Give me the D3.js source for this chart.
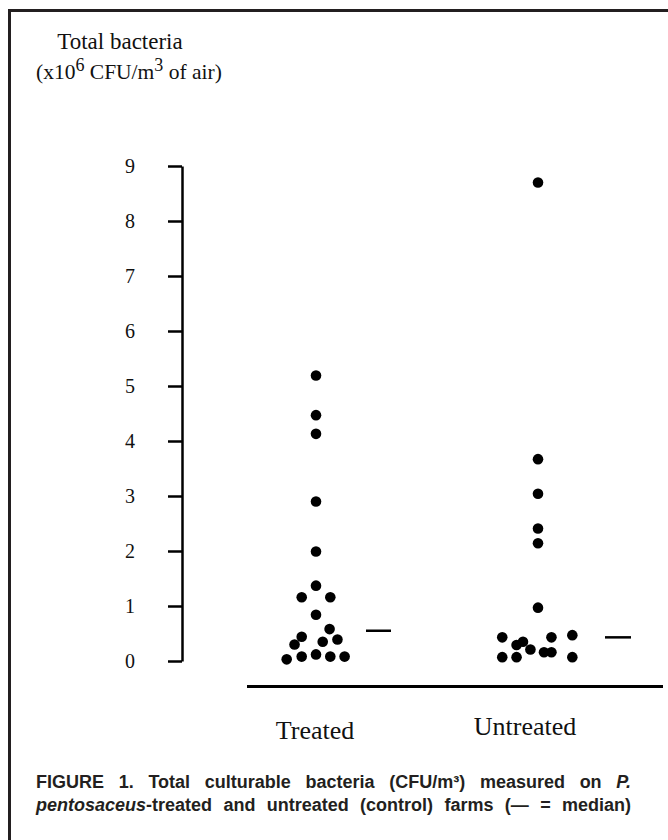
<!DOCTYPE html>
<html>
<head>
<meta charset="utf-8">
<script src="https://cdn.jsdelivr.net/npm/d3@7"></script>
<style>
  body { margin: 0; background: #fff; }
  svg { display: block; }
</style>
</head>
<body>
<svg id="chart"></svg>
<script>
const groups = ['Treated', 'Untreated'];
const yTicks = [0, 1, 2, 3, 4, 5, 6, 7, 8, 9];

// value (x10^6 CFU/m3), horizontal slot offset in dot widths
const treatedValues = [5.19, 4.47, 4.13, 2.90, 1.99, 1.37, 1.16, 1.16, 0.84, 0.58, 0.44, 0.30, 0.35, 0.39, 0.03, 0.08, 0.12, 0.08, 0.08];
const treatedSlots  = [0, 0, 0, 0, 0, 0, -1, 1, 0, 0.95, -1, -1.5, 0.47, 1.5, -2.05, -1, 0, 1, 2];
const untreatedValues = [8.70, 3.67, 3.04, 2.41, 2.14, 0.97, 0.43, 0.43, 0.47, 0.35, 0.29, 0.21, 0.16, 0.16, 0.07, 0.07, 0.07];
const untreatedSlots  = [0, 0, 0, 0, 0, 0, -2.5, 0.94, 2.4, -1.05, -1.5, -0.53, 0.42, 0.94, -2.5, -1.5, 2.4];
const medians = [0.55, 0.43];

const width = 668;
const height = 840;

const svg = d3.select('#chart')
  .attr('width', width)
  .attr('height', height);

// frame (top and left edges only)
svg.append('path')
  .attr('d', `M9.5,${height} L9.5,10.5 L${width},10.5`)
  .attr('fill', 'none')
  .attr('stroke', '#231f20')
  .attr('stroke-width', 3);

const serif = '"Liberation Serif", "DejaVu Serif", serif';

// y axis title
const title = svg.append('g').attr('font-family', serif).attr('fill', '#111');
title.append('text')
  .attr('x', 120).attr('y', 49)
  .attr('text-anchor', 'middle')
  .attr('font-size', 23)
  .text('Total bacteria');
const t2 = title.append('text')
  .attr('x', 36).attr('y', 79)
  .attr('font-size', 21.5);
t2.append('tspan').text('(x10');
t2.append('tspan').attr('dy', -8).attr('font-size', 18).text('6');
t2.append('tspan').attr('dy', 8).text(' CFU/m');
t2.append('tspan').attr('dy', -8).attr('font-size', 18).text('3');
t2.append('tspan').attr('dy', 8).text(' of air)');

const y = d3.scaleLinear()
  .domain([0, 9])
  .range([661, 166]);

const x = d3.scalePoint()
  .domain(groups)
  .range([316, 538]);

const slot = d3.scaleLinear()
  .domain([-1, 1])
  .range([-14.3, 14.3]);

const yAxis = d3.axisLeft(y)
  .tickValues(yTicks)
  .tickSize(14)
  .tickSizeOuter(0)
  .tickPadding(33)
  .tickFormat(d3.format('d'));

const yG = svg.append('g')
  .attr('transform', 'translate(182,0)')
  .call(yAxis);
yG.select('.domain').attr('stroke', '#000').attr('stroke-width', 2.5);
yG.selectAll('.tick line').attr('stroke', '#000').attr('stroke-width', 2.5);
yG.selectAll('.tick text')
  .attr('font-family', serif)
  .attr('font-size', 20)
  .attr('fill', '#111');

// baseline under the groups
svg.append('line')
  .attr('x1', 247).attr('x2', 663)
  .attr('y1', 686.5).attr('y2', 686.5)
  .attr('stroke', '#000')
  .attr('stroke-width', 3);

// group labels
svg.selectAll('.group-label')
  .data(groups)
  .enter()
  .append('text')
  .attr('class', 'group-label')
  .attr('x', (d, i) => i === 0 ? x(d) - 1 : x(d) - 13)
  .attr('y', (d, i) => i === 0 ? 739 : 735)
  .attr('text-anchor', 'middle')
  .attr('font-family', serif)
  .attr('font-size', 26)
  .attr('fill', '#111')
  .text((d) => d);

const points = [];
treatedValues.forEach((v, i) => points.push({ group: 'Treated', value: v, slot: treatedSlots[i] }));
untreatedValues.forEach((v, i) => points.push({ group: 'Untreated', value: v, slot: untreatedSlots[i] }));

svg.selectAll('.dot')
  .data(points)
  .enter()
  .append('circle')
  .attr('class', 'dot')
  .attr('cx', (d) => x(d.group) + slot(d.slot))
  .attr('cy', (d) => y(d.value))
  .attr('r', 5.3)
  .attr('fill', '#000');

// median dashes
svg.selectAll('.median')
  .data(medians)
  .enter()
  .append('line')
  .attr('class', 'median')
  .attr('x1', (d, i) => x(groups[i]) + (i === 0 ? 50 : 67))
  .attr('x2', (d, i) => x(groups[i]) + (i === 0 ? 75 : 93))
  .attr('y1', (d) => y(d))
  .attr('y2', (d) => y(d))
  .attr('stroke', '#000')
  .attr('stroke-width', 2.5);

// caption, justified word by word
const capLines = [
  [['FIGURE', false], ['1.', false], ['Total', false], ['culturable', false], ['bacteria', false], ['(CFU/m³)', false], ['measured', false], ['on', false], ['P.', true]],
  [['pentosaceus', true, '-treated'], ['and', false], ['untreated', false], ['(control)', false], ['farms', false], ['(—', false], ['=', false], ['median)', false]]
];
const capLeft = 36;
const capRight = 631;
const capY = [788, 811];

capLines.forEach((words, li) => {
  const g = svg.append('g')
    .attr('font-family', '"Liberation Sans", Arial, sans-serif')
    .attr('font-weight', 'bold')
    .attr('font-size', 18)
    .attr('fill', '#231f20');
  const nodes = words.map((w) => {
    const t = g.append('text').attr('y', capY[li]);
    t.append('tspan').attr('font-style', w[1] ? 'italic' : 'normal').text(w[0]);
    if (w[2]) t.append('tspan').attr('font-style', 'normal').text(w[2]);
    return t;
  });
  const widths = nodes.map((n) => n.node().getComputedTextLength());
  const total = d3.sum(widths);
  const gap = (capRight - capLeft - total) / (nodes.length - 1);
  let cx = capLeft;
  nodes.forEach((n, i) => {
    n.attr('x', cx);
    cx += widths[i] + gap;
  });
});
</script>
</body>
</html>
